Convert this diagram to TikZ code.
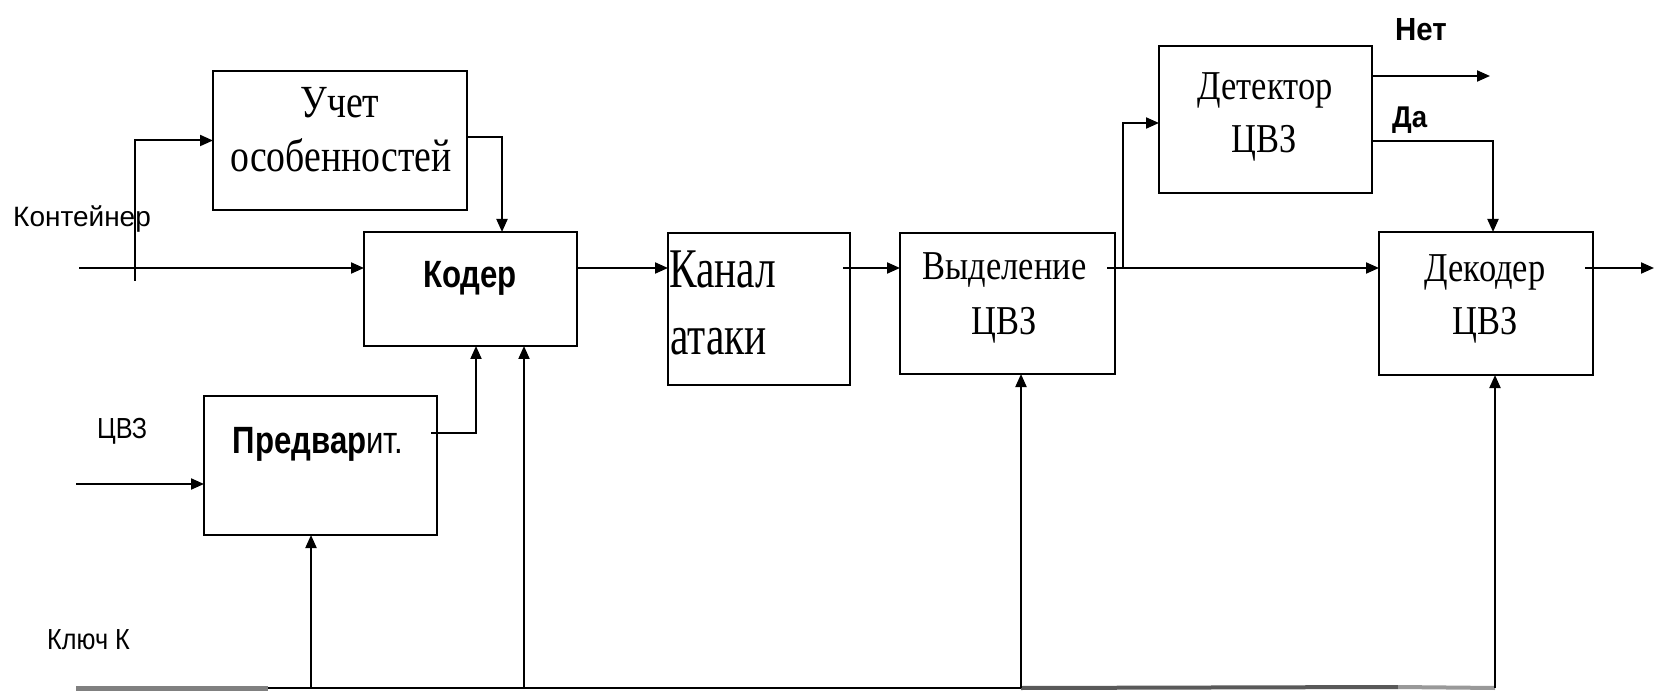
\documentclass[tikz,border=0pt]{standalone}
\usepackage{fontspec}
\setmainfont{Liberation Serif}
\usetikzlibrary{arrows.meta}
% condensed serif faces for the block captions
\newfontfamily\capA[FakeStretch=0.82]{Liberation Serif}
\newfontfamily\capK[FakeStretch=0.74]{Liberation Serif}
\newfontfamily\capV[FakeStretch=0.84]{Liberation Serif}
% sans faces for the signal labels
\newfontfamily\sigW{Liberation Sans}
\newfontfamily\sigN[FakeStretch=0.87]{Liberation Sans}
\newfontfamily\sigB[FakeStretch=0.82]{Liberation Sans}
\newfontfamily\sigD[FakeStretch=0.92]{Liberation Sans}

\begin{document}
\begin{tikzpicture}[x=1pt,y=-1pt,
  block/.style={draw,line width=2.3pt,inner sep=0pt,outer sep=0pt},
  txt/.style={inner sep=0pt,anchor=base},
  txtl/.style={inner sep=0pt,anchor=base west},
  arr/.style={line width=2pt,-{Triangle[length=13pt,width=11pt]}},
  wire/.style={line width=2pt}]
\useasboundingbox (0,0) rectangle (1662,692);

% blocks
\node[block,minimum width=254pt,minimum height=139pt] (uchet) at (340,140.5) {};
\node[block,minimum width=213pt,minimum height=114pt] (koder) at (470.5,289) {};
\node[block,minimum width=233pt,minimum height=139pt] (predv) at (320.5,465.5) {};
\node[block,minimum width=182pt,minimum height=152pt] (kanal) at (759,309) {};
\node[block,minimum width=215pt,minimum height=141pt] (vyd) at (1007.5,303.5) {};
\node[block,minimum width=213pt,minimum height=147pt] (det) at (1265.5,119.5) {};
\node[block,minimum width=214pt,minimum height=143pt] (dek) at (1486,303.5) {};

% block captions
\node[txt,font=\capA\fontsize{46}{54}\selectfont] (uchetA) at (340,118) {Учет};
\node[txt,font=\capA\fontsize{46}{54}\selectfont] (uchetB) at (341,172) {особенностей};
\node[txt,font=\sigB\bfseries\fontsize{38}{44}\selectfont] (koderT) at (470,288) {Кодер};
\node[txt,font=\sigB\fontsize{38}{44}\selectfont] (predvT) at (318,453) {\textbf{Предвар}ит.};
\node[txtl,font=\capK\fontsize{56}{67}\selectfont] (kanalA) at (669,288) {Канал};
\node[txtl,font=\capK\fontsize{56}{67}\selectfont] (kanalB) at (670,355) {атаки};
\node[txt,font=\capV\fontsize{41}{55}\selectfont] (vydA) at (1004.5,280) {Выделение};
\node[txt,font=\capV\fontsize{41}{55}\selectfont] (vydB) at (1004.5,335) {ЦВЗ};
\node[txt,font=\capV\fontsize{41}{55}\selectfont] (detA) at (1265,100) {Детектор};
\node[txt,font=\capV\fontsize{41}{55}\selectfont] (detB) at (1264,153) {ЦВЗ};
\node[txt,font=\capV\fontsize{41}{55}\selectfont] (dekA) at (1485,282) {Декодер};
\node[txt,font=\capV\fontsize{41}{55}\selectfont] (dekB) at (1485,335) {ЦВЗ};

% signal labels
\node[txtl,font=\sigW\fontsize{28}{32}\selectfont] (lcont) at (13,227) {Контейнер};
\node[txtl,font=\sigN\fontsize{29}{33}\selectfont] (lcvz) at (97,438) {ЦВЗ};
\node[txtl,font=\sigN\fontsize{29}{33}\selectfont] (lkey) at (47,649) {Ключ К};
\node[txtl,font=\sigD\bfseries\fontsize{32}{36}\selectfont] (lnet) at (1395,41) {Нет};
\node[txtl,font=\sigD\bfseries\fontsize{30}{34}\selectfont] (lda) at (1392,128) {Да};

% free ends and bends
\coordinate (cin) at (79,268);
\coordinate (cbr) at (135,281);
\coordinate (uo) at (502,137);
\coordinate (po) at (476,433);
\coordinate (zin) at (76,484);
\coordinate (br) at (1123,268);
\coordinate (netEnd) at (1490,76);
\coordinate (da) at (1493,141);
\coordinate (out) at (1654,268);
\coordinate (keyL) at (76,688);
\coordinate (k1) at (311,688);
\coordinate (k2) at (524,688);
\coordinate (k3) at (1021,688);
\coordinate (k4) at (1495,688);

% key bus along the bottom
\draw[line width=5pt,black!50] (keyL) -- (268,688);
\draw[line width=2.5pt] (268,688) -- (k3);
\draw[line width=4pt,black!65] (k3) -- (1398,687);
\draw[line width=4pt,black!40] (1398,687) -- (k4);

% container path
\draw[arr] (cin) -- (cin -| koder.west);
\draw[arr] (cbr) |- (uchet.west);
\draw[arr] ([yshift=3.5pt]uchet.east) -| (uo |- koder.north);
\draw[arr] ([xshift=-6pt]predv.east |- po) -| (po |- koder.south);
\draw[arr] (zin) -- (zin -| predv.west);

% main chain
\draw[arr] (koder.east |- cin) -- (kanal.west |- cin);
\draw[arr] ([xshift=-7pt]kanal.east |- cin) -- (vyd.west |- cin);
\draw[arr] ([xshift=-8pt]vyd.east |- cin) -- (dek.west |- cin);
\draw[arr] (br) |- ([yshift=-3.5pt]det.west);
\draw[arr] (det.east |- netEnd) -- (netEnd);
\draw[arr] (det.east |- da) -| (da |- dek.north);
\draw[arr] ([xshift=-8pt]dek.east |- out) -- (out);

% key taps
\draw[arr] (k1) -- (k1 |- predv.south);
\draw[arr] (k2) -- (k2 |- koder.south);
\draw[arr] (k3) -- (k3 |- vyd.south);
\draw[arr] (k4) -- (k4 |- dek.south);
\end{tikzpicture}
\end{document}
